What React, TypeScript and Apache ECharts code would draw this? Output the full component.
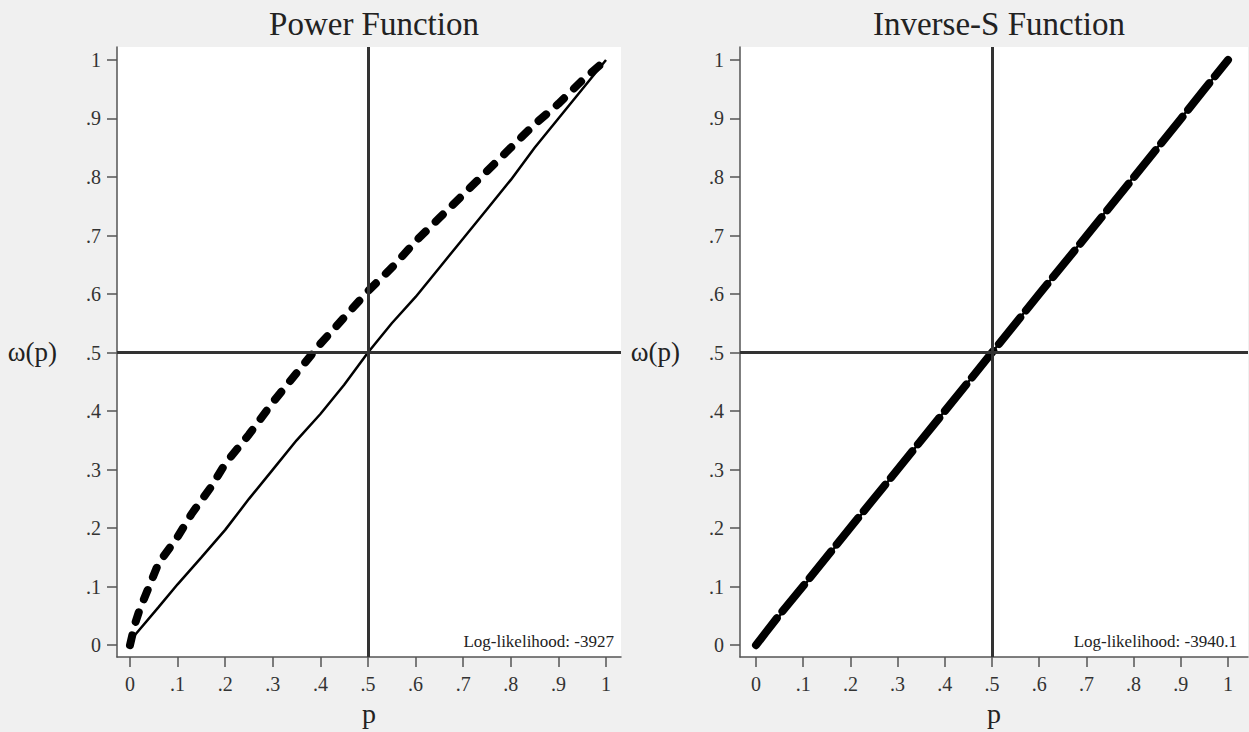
import React, { useEffect, useRef } from "react";
import * as echarts from "echarts";

const tickValues = [0, 0.1, 0.2, 0.3, 0.4, 0.5, 0.6, 0.7, 0.8, 0.9, 1];
const titles = ["Power Function", "Inverse-S Function"];
const notes = ["Log-likelihood: -3927", "Log-likelihood: -3940.1"];

// Power function panel
const powerFitX = [0, 0.01, 0.02, 0.04, 0.06, 0.1, 0.13, 0.17, 0.2, 0.25, 0.3, 0.36, 0.4, 0.45, 0.5, 0.55, 0.6, 0.65, 0.7, 0.75, 0.8, 0.85, 0.9, 0.95, 1];
const powerFitY = [0, 0.035, 0.06, 0.1, 0.14, 0.185, 0.225, 0.27, 0.31, 0.36, 0.415, 0.475, 0.515, 0.56, 0.605, 0.645, 0.69, 0.73, 0.77, 0.81, 0.85, 0.89, 0.925, 0.965, 1];
const powerObsX = [0, 0.01, 0.06, 0.1, 0.15, 0.2, 0.25, 0.3, 0.35, 0.4, 0.45, 0.5, 0.55, 0.6, 0.65, 0.7, 0.75, 0.8, 0.85, 0.9, 0.95, 1];
const powerObsY = [0, 0.017, 0.065, 0.104, 0.15, 0.197, 0.25, 0.3, 0.35, 0.395, 0.445, 0.5, 0.55, 0.595, 0.645, 0.695, 0.745, 0.795, 0.85, 0.9, 0.95, 1];

// Inverse-S panel
const invFitX = [0, 0.02, 0.05, 0.1, 0.2, 0.3, 0.4, 0.5, 0.6, 0.7, 0.8, 0.9, 0.95, 1];
const invFitY = [0, 0.021, 0.052, 0.101, 0.201, 0.3, 0.4, 0.5, 0.6, 0.699, 0.799, 0.899, 0.95, 1];
const invObsX = [0, 0.05, 0.1, 0.2, 0.3, 0.4, 0.5, 0.6, 0.7, 0.8, 0.9, 1];
const invObsY = [0, 0.05, 0.1, 0.2, 0.3, 0.4, 0.5, 0.6, 0.7, 0.8, 0.9, 1];

const FONT = "Liberation Serif";

function fmt(v: number): string {
  if (v === 0) return "0";
  if (v === 1) return "1";
  return String(Math.round(v * 10) / 10).replace(/^0/, "");
}

function zip(xs: number[], ys: number[]) {
  return xs.map((x, i) => [x, ys[i]]);
}

export default function App() {
  const ref = useRef<HTMLDivElement>(null);
  useEffect(() => {
    if (!ref.current) return;
    const chart = echarts.init(ref.current, undefined, { renderer: "svg" });

    const grids = [
      { left: 117, top: 47, width: 504, height: 613 },
      { left: 740, top: 47, width: 508, height: 613 },
    ];
    const xRanges = [
      [-0.0273, 1.0315],
      [-0.0339, 1.0424],
    ];
    const yRange = [-0.0204, 1.0221];

    const axisLineStyle = { color: "#555", width: 1.5 };

    const xAxes = grids.map((_, i) => ({
      type: "value",
      gridIndex: i,
      min: xRanges[i][0],
      max: xRanges[i][1],
      name: "p",
      nameLocation: "middle",
      nameGap: 40,
      nameTextStyle: { fontFamily: FONT, fontSize: 28, color: "#222" },
      axisLine: { show: true, onZero: false, lineStyle: axisLineStyle },
      axisTick: { show: true, inside: false, length: 10, customValues: tickValues, lineStyle: axisLineStyle },
      axisLabel: {
        customValues: tickValues,
        formatter: (v: number) => fmt(v),
        fontFamily: FONT,
        fontSize: 20,
        color: "#333",
        margin: 17,
      },
      splitLine: { show: false },
    }));

    const yAxes = grids.map((_, i) => ({
      type: "value",
      gridIndex: i,
      min: yRange[0],
      max: yRange[1],
      name: "ω(p)",
      nameLocation: "middle",
      nameRotate: 0,
      nameGap: 60,
      nameTextStyle: { fontFamily: FONT, fontSize: 27, color: "#222" },
      axisLine: { show: true, onZero: false, lineStyle: axisLineStyle },
      axisTick: { show: true, inside: false, length: 10, customValues: tickValues, lineStyle: axisLineStyle },
      axisLabel: {
        customValues: tickValues,
        formatter: (v: number) => fmt(v),
        fontFamily: FONT,
        fontSize: 20,
        color: "#333",
        margin: 16,
      },
      splitLine: { show: false },
    }));

    const refLines = {
      silent: true,
      symbol: ["none", "none"],
      label: { show: false },
      lineStyle: { color: "#333", width: 3, type: "solid" },
      data: [{ xAxis: 0.5 }, { yAxis: 0.5 }],
    };

    const fitStyle = (dashed: boolean) => ({
      color: "#000",
      width: 8,
      type: dashed ? [10, 14] : [34, 9],
      cap: "round",
      join: "round",
    });

    const series: any[] = [
      {
        type: "line",
        xAxisIndex: 0,
        yAxisIndex: 0,
        data: zip(powerObsX, powerObsY),
        showSymbol: false,
        lineStyle: { color: "#000", width: 2.5 },
        markLine: refLines,
        z: 2,
      },
      {
        type: "line",
        xAxisIndex: 0,
        yAxisIndex: 0,
        data: zip(powerFitX, powerFitY),
        showSymbol: false,
        lineStyle: fitStyle(true),
        z: 3,
      },
      {
        type: "line",
        xAxisIndex: 1,
        yAxisIndex: 1,
        data: zip(invObsX, invObsY),
        showSymbol: false,
        lineStyle: { color: "#000", width: 2.5 },
        markLine: refLines,
        z: 2,
      },
      {
        type: "line",
        xAxisIndex: 1,
        yAxisIndex: 1,
        data: zip(invFitX, invFitY),
        showSymbol: false,
        lineStyle: fitStyle(false),
        z: 3,
      },
    ];

    chart.setOption({
      animation: false,
      backgroundColor: "#f0f0f0",
      grid: grids.map((g) => ({
        ...g,
        show: true,
        backgroundColor: "#ffffff",
        borderWidth: 0,
        containLabel: false,
      })),
      title: titles.map((t, i) => ({
        text: t,
        left: grids[i].left + grids[i].width / 2,
        top: 2,
        textAlign: "center",
        textStyle: { fontFamily: FONT, fontSize: 33, fontWeight: "normal", color: "#222" },
      })),
      xAxis: xAxes,
      yAxis: yAxes,
      series,
      graphic: notes.map((n, i) => ({
        type: "text",
        x: i === 0 ? 614 : 1237,
        y: 641,
        z: 10,
        style: {
          text: n,
          fontFamily: FONT,
          fontSize: 17,
          fill: "#222",
          align: "right",
          verticalAlign: "middle",
        },
      })),
    });

    return () => chart.dispose();
  }, []);

  return (
    <div
      ref={ref}
      style={{ position: "fixed", left: 0, top: 0, width: 1249, height: 732 }}
    />
  );
}
